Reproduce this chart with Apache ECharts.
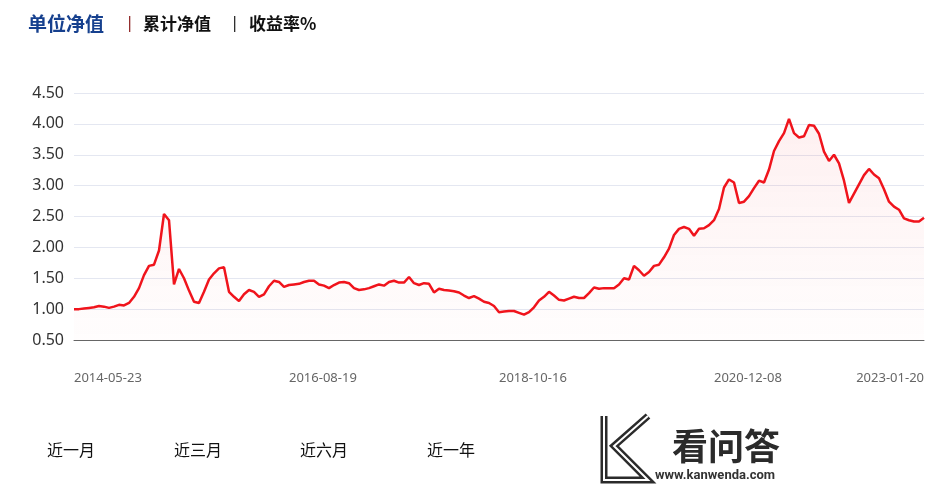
<!DOCTYPE html>
<html>
<head>
<meta charset="utf-8">
<script src="https://cdn.jsdelivr.net/npm/echarts@6/dist/echarts.min.js"></script>
<style>
html,body{margin:0;padding:0;background:#fff;}
#c{width:951px;height:490px;}
</style>
</head>
<body>
<div id="c"></div>
<script>
// Unit NAV values, sampled evenly along the axis
const navValues = [
  1.00,1.00,1.01,1.02,1.03,1.05,1.04,1.02,1.04,1.07,
  1.06,1.10,1.20,1.34,1.55,1.70,1.72,1.95,2.54,2.44,
  1.40,1.65,1.50,1.30,1.12,1.10,1.28,1.48,1.58,1.66,
  1.68,1.28,1.20,1.13,1.24,1.31,1.28,1.20,1.24,1.37,
  1.46,1.44,1.36,1.39,1.40,1.41,1.44,1.46,1.46,1.40,
  1.38,1.34,1.39,1.43,1.44,1.42,1.34,1.31,1.32,1.34,
  1.37,1.40,1.38,1.44,1.46,1.43,1.43,1.52,1.42,1.39,
  1.42,1.41,1.27,1.33,1.31,1.30,1.29,1.27,1.22,1.18,
  1.21,1.17,1.12,1.10,1.05,0.95,0.96,0.97,0.97,0.94,
  0.91,0.95,1.03,1.14,1.20,1.28,1.22,1.15,1.14,1.17,
  1.20,1.18,1.18,1.26,1.35,1.33,1.34,1.34,1.34,1.40,
  1.50,1.48,1.70,1.63,1.54,1.60,1.70,1.72,1.84,1.98,
  2.20,2.30,2.33,2.30,2.19,2.30,2.31,2.36,2.44,2.62,
  2.97,3.10,3.05,2.72,2.74,2.83,2.96,3.08,3.05,3.26,
  3.56,3.72,3.85,4.08,3.85,3.78,3.80,3.98,3.97,3.84,
  3.55,3.40,3.50,3.36,3.08,2.72,2.87,3.02,3.17,3.27,
  3.18,3.12,2.94,2.74,2.66,2.61,2.47,2.44,2.42,2.42,
  2.48
];
// X axis tick labels and the sample index where each sits
const tickLabels = ['2014-05-23','2016-08-19','2018-10-16','2020-12-08','2023-01-20'];
const tickIndex = [0, 43, 85, 128, 170];
const categories = navValues.map((_, i) => String(i));
const tabs = ['单位净值','累计净值','收益率%'];
const periodButtons = ['近一月','近三月','近六月','近一年'];

const labelMap = {};
tickIndex.forEach((idx, k) => { labelMap[idx] = tickLabels[k]; });

const chart = echarts.init(document.getElementById('c'), null, {renderer: 'canvas'});

const cjk = '"Microsoft YaHei","Noto Sans CJK SC",sans-serif';
const latin = '"Noto Sans","Noto Sans CJK SC",sans-serif';

const graphics = [
  {type:'text', left:28, top:14, style:{text:tabs[0], font:'bold 19px '+cjk, fill:'#16408e'}},
  {type:'text', left:125, top:15, style:{text:'|', font:'17px '+latin, fill:'#8a1c1c'}},
  {type:'text', left:143, top:15, style:{text:tabs[1], font:'bold 17px '+cjk, fill:'#111'}},
  {type:'text', left:230, top:15, style:{text:'|', font:'17px '+latin, fill:'#222'}},
  {type:'text', left:249, top:15, style:{text:tabs[2], font:'bold 17px '+cjk, fill:'#111'}}
];
const btnX = [47, 174, 300, 427];
periodButtons.forEach((t, i) => {
  graphics.push({type:'text', left:btnX[i], top:442, style:{text:t, font:'16px '+cjk, fill:'#111'}});
});
// watermark
graphics.push(
  {type:'polyline', shape:{points:[[604,416],[604,480],[648,480],[614,446],[648,416]]}, style:{stroke:'#2b2b2b', lineWidth:7, fill:null, lineJoin:'miter'}},
  {type:'polyline', shape:{points:[[604,416],[604,480],[648,480],[614,446],[648,416]]}, style:{stroke:'#fff', lineWidth:2, fill:null}},
  {type:'text', left:672, top:428, style:{text:'看问答', font:'bold 36px '+cjk, fill:'#2b2b2b'}},
  {type:'text', left:655, top:469, style:{text:'www.kanwenda.com', font:'bold 13px "Liberation Sans Narrow","Roboto",sans-serif', fill:'#333'}}
);

chart.setOption({
  animation: false,
  grid: {left: 74, right: 27, top: 93, height: 247, containLabel: false},
  xAxis: {
    type: 'category',
    data: categories,
    boundaryGap: false,
    axisLine: {show: true, lineStyle: {color: '#666', width: 1}},
    axisTick: {show: false},
    axisLabel: {
      interval: (idx) => labelMap[idx] !== undefined,
      formatter: (v, idx) => labelMap[idx] || '',
      align: 'left',
      alignMaxLabel: 'right',
      margin: 32,
      color: '#666',
      fontSize: 13,
      fontFamily: latin
    },
    splitLine: {show: false}
  },
  yAxis: {
    type: 'value',
    min: 0.5,
    max: 4.5,
    interval: 0.5,
    axisLine: {show: false},
    axisTick: {show: false},
    axisLabel: {
      formatter: (v) => v.toFixed(2),
      color: '#333',
      fontSize: 16,
      margin: 10,
      fontFamily: latin
    },
    splitLine: {show: true, lineStyle: {color: '#e4e7f1', width: 1}}
  },
  series: [{
    type: 'line',
    data: navValues,
    symbol: 'none',
    smooth: false,
    lineStyle: {color: '#f0141c', width: 2.5},
    areaStyle: {
      color: new echarts.graphic.LinearGradient(0, 0, 0, 1, [
        {offset: 0, color: 'rgba(240,20,28,0.09)'},
        {offset: 1, color: 'rgba(240,20,28,0.01)'}
      ])
    }
  }],
  graphic: graphics
});
</script>
</body>
</html>
